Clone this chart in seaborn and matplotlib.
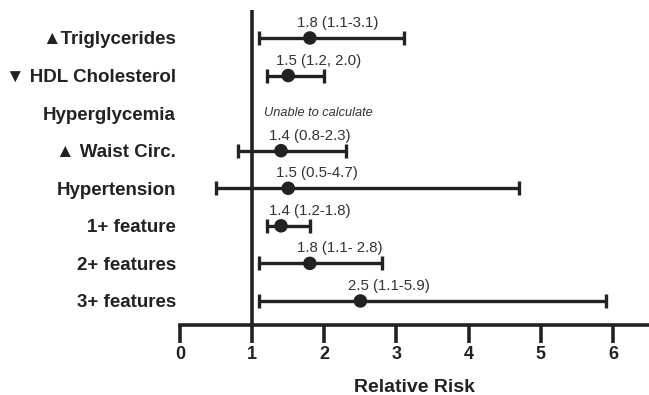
import matplotlib
matplotlib.use("Agg")
import matplotlib.pyplot as plt
import seaborn as sns
import pandas as pd
import numpy as np

# data
labels = ["\u25B2Triglycerides", "\u25BC HDL Cholesterol", "Hyperglycemia",
          "\u25B2 Waist Circ.", "Hypertension", "1+ feature", "2+ features", "3+ features"]
rr = [1.8, 1.5, np.nan, 1.4, 1.5, 1.4, 1.8, 2.5]
lo = [1.1, 1.2, np.nan, 0.8, 0.5, 1.2, 1.1, 1.1]
hi = [3.1, 2.0, np.nan, 2.3, 4.7, 1.8, 2.8, 5.9]
ci_text = ["1.8 (1.1-3.1)", "1.5 (1.2, 2.0)", "Unable to calculate", "1.4 (0.8-2.3)",
           "1.5 (0.5-4.7)", "1.4 (1.2-1.8)", "1.8 (1.1- 2.8)", "2.5 (1.1-5.9)"]

sns.set_style("white")
plt.rcParams['font.family'] = ['Liberation Sans', 'DejaVu Sans']

df = pd.DataFrame({'pos': np.arange(len(labels)), 'rr': rr, 'lo': lo, 'hi': hi})
valid = df.dropna()

fig = plt.figure(figsize=(6.49, 3.95), dpi=100)
ax = fig.add_axes([180 / 649, 70 / 395, 469 / 649, 315 / 395])

# confidence intervals
ax.errorbar(valid['rr'], valid['pos'],
            xerr=[valid['rr'] - valid['lo'], valid['hi'] - valid['rr']],
            fmt='none', ecolor='#222222', elinewidth=2.4, capsize=5, capthick=2.4, zorder=2)
sns.scatterplot(data=valid, x='rr', y='pos', color='#222222', s=95, edgecolor='none',
                ax=ax, zorder=3, legend=False)

# reference line at 1
ax.axvline(1, color='#222222', lw=2.6, zorder=1)

for i, t in enumerate(ci_text):
    if np.isnan(rr[i]):
        ax.text(1.17, i, t, ha='left', va='center', fontsize=9.2, style='italic', color='#333333')
    else:
        ax.annotate(t, (rr[i], i - 0.4), xytext=(-9, 0), textcoords='offset points',
                    ha='left', va='center', fontsize=10.8, color='#333333')

ax.set_xlim(0, 6.5)
ax.set_ylim(7.64, -0.745)
ax.set_xticks(range(7))
ax.set_xticklabels([str(v) for v in range(7)], fontsize=13, fontweight='bold', color='#222222')
ax.set_yticks(range(len(labels)))
ax.set_yticklabels(labels, fontsize=13.5, fontweight='bold', color='#222222')
ax.tick_params(axis='y', left=False, length=0, pad=3)
ax.tick_params(axis='x', bottom=True, direction='out', length=13, width=2.6, color='#222222', pad=2)
ax.set_xlabel("Relative Risk", fontsize=14, fontweight='bold', color='#222222', labelpad=12)
ax.set_ylabel("")

for s in ['left', 'right', 'top']:
    ax.spines[s].set_visible(False)
ax.spines['bottom'].set_linewidth(2.6)
ax.spines['bottom'].set_color('#222222')

fig.savefig("out.png", dpi=100)
